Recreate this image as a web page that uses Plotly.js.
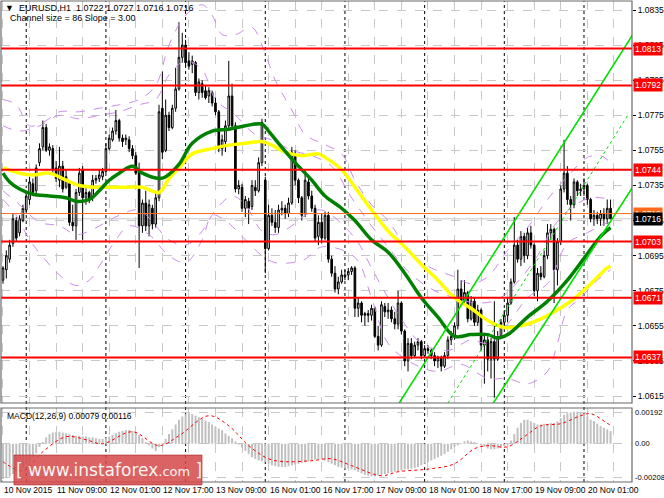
<!DOCTYPE html>
<html><head><meta charset="utf-8">
<script src="https://cdn.plot.ly/plotly-3.0.1.min.js"></script>
<style>html,body{margin:0;padding:0;background:#fff;}#chart{width:664px;height:498px;}</style>
</head><body><div id="chart"></div>
<script>
// ---- EURUSD H1 candles (10 Nov 17:00 .. 20 Nov 09:00) ----
const opens = [
1.0681,1.0687,1.0693,1.0702,1.0715,1.0708,1.0715,1.0721,1.0727,1.0736,
1.0732,1.0748,1.0757,1.0768,1.0755,1.0756,1.0745,1.0738,1.0746,1.0734,
1.0736,1.0714,1.0712,1.0731,1.0744,1.0728,1.0731,1.0728,1.0738,1.0739,
1.0740,1.0743,1.0756,1.0761,1.0766,1.0772,1.0762,1.0761,1.0761,1.0756,
1.0752,1.0744,1.0712,1.0725,1.0712,1.0722,1.0713,1.0728,1.0779,1.0755,
1.0775,1.0768,1.0779,1.0790,1.0808,1.0815,1.0806,1.0804,1.0805,1.0788,
1.0793,1.0789,1.0786,1.0788,1.0782,1.0777,1.0756,1.0760,1.0769,1.0786,
1.0769,1.0733,1.0734,1.0722,1.0726,1.0723,1.0734,1.0732,1.0748,1.0738,
1.0699,1.0718,1.0714,1.0711,1.0721,1.0722,1.0719,1.0725,1.0752,1.0738,
1.0728,1.0719,1.0737,1.0729,1.0722,1.0706,1.0714,1.0705,1.0718,1.0693,
1.0685,1.0676,1.0680,1.0683,1.0684,1.0686,1.0688,1.0665,1.0668,1.0661,
1.0662,1.0661,1.0665,1.0649,1.0644,1.0666,1.0663,1.0664,1.0659,1.0656,
1.0668,1.0652,1.0635,1.0645,1.0638,1.0644,1.0646,1.0638,1.0642,1.0641,
1.0638,1.0635,1.0637,1.0632,1.0638,1.0647,1.0649,1.0655,1.0676,1.0669,
1.0674,1.0659,1.0669,1.0657,1.0664,1.0644,1.0647,1.0636,1.0646,1.0636,
1.0649,1.0657,1.0661,1.0668,1.0680,1.0701,1.0693,1.0706,1.0695,1.0708,
1.0701,1.0675,1.0685,1.0683,1.0695,1.0708,1.0710,1.0687,1.0703,1.0733,
1.0742,1.0727,1.0724,1.0737,1.0732,1.0733,1.0735,1.0727,1.0716,1.0718,
1.0716,1.0719,1.0716,1.0722];
const highs = [
1.0689,1.0698,1.0704,1.0719,1.0717,1.0718,1.0724,1.0732,1.0740,1.0739,
1.0747,1.0759,1.0772,1.0770,1.0759,1.0758,1.0749,1.0757,1.0749,1.0744,
1.0738,1.0724,1.0733,1.0745,1.0746,1.0734,1.0732,1.0741,1.0741,1.0744,
1.0745,1.0759,1.0764,1.0768,1.0778,1.0773,1.0764,1.0764,1.0763,1.0758,
1.0754,1.0748,1.0727,1.0732,1.0727,1.0724,1.0731,1.0781,1.0800,1.0784,
1.0777,1.0781,1.0802,1.0828,1.0822,1.0818,1.0811,1.0809,1.0806,1.0796,
1.0795,1.0792,1.0791,1.0789,1.0785,1.0778,1.0764,1.0772,1.0806,1.0793,
1.0771,1.0738,1.0736,1.0729,1.0728,1.0738,1.0738,1.0751,1.0773,1.0740,
1.0724,1.0722,1.0721,1.0724,1.0726,1.0724,1.0728,1.0757,1.0755,1.0739,
1.0729,1.0744,1.0739,1.0732,1.0724,1.0718,1.0719,1.0720,1.0720,1.0695,
1.0689,1.0683,1.0687,1.0687,1.0688,1.0689,1.0689,1.0671,1.0669,1.0663,
1.0664,1.0667,1.0666,1.0655,1.0669,1.0668,1.0668,1.0666,1.0663,1.0675,
1.0669,1.0653,1.0648,1.0648,1.0646,1.0648,1.0647,1.0644,1.0644,1.0642,
1.0640,1.0638,1.0638,1.0640,1.0649,1.0652,1.0657,1.0687,1.0681,1.0681,
1.0675,1.0672,1.0671,1.0667,1.0665,1.0651,1.0649,1.0648,1.0669,1.0652,
1.0659,1.0664,1.0671,1.0682,1.0717,1.0704,1.0709,1.0708,1.0711,1.0712,
1.0702,1.0688,1.0689,1.0698,1.0713,1.0713,1.0711,1.0705,1.0735,1.0761,
1.0746,1.0729,1.0739,1.0738,1.0736,1.0739,1.0736,1.0728,1.0721,1.0720,
1.0721,1.0722,1.0727,1.0727];
const lows = [
1.0679,1.0682,1.0691,1.0700,1.0703,1.0706,1.0714,1.0719,1.0724,1.0729,
1.0730,1.0746,1.0755,1.0754,1.0752,1.0742,1.0737,1.0734,1.0731,1.0733,
1.0712,1.0709,1.0704,1.0729,1.0704,1.0724,1.0725,1.0726,1.0736,1.0737,
1.0738,1.0742,1.0755,1.0760,1.0764,1.0760,1.0757,1.0758,1.0754,1.0750,
1.0741,1.0688,1.0708,1.0709,1.0706,1.0710,1.0711,1.0726,1.0750,1.0754,
1.0766,1.0767,1.0777,1.0789,1.0805,1.0803,1.0801,1.0799,1.0786,1.0784,
1.0785,1.0784,1.0782,1.0780,1.0775,1.0754,1.0752,1.0754,1.0767,1.0767,
1.0731,1.0730,1.0720,1.0717,1.0713,1.0721,1.0729,1.0731,1.0746,1.0685,
1.0698,1.0712,1.0708,1.0708,1.0718,1.0716,1.0717,1.0724,1.0735,1.0725,
1.0715,1.0717,1.0727,1.0720,1.0703,1.0701,1.0702,1.0704,1.0691,1.0683,
1.0674,1.0673,1.0679,1.0681,1.0681,1.0684,1.0660,1.0660,1.0657,1.0655,
1.0657,1.0658,1.0648,1.0641,1.0643,1.0660,1.0659,1.0657,1.0653,1.0653,
1.0650,1.0632,1.0629,1.0636,1.0637,1.0641,1.0636,1.0637,1.0639,1.0636,
1.0632,1.0631,1.0629,1.0631,1.0636,1.0644,1.0647,1.0653,1.0667,1.0667,
1.0657,1.0658,1.0655,1.0655,1.0641,1.0622,1.0629,1.0625,1.0614,1.0635,
1.0648,1.0655,1.0657,1.0667,1.0679,1.0691,1.0689,1.0691,1.0693,1.0699,
1.0672,1.0669,1.0681,1.0682,1.0693,1.0704,1.0668,1.0678,1.0701,1.0731,
1.0724,1.0715,1.0722,1.0729,1.0729,1.0729,1.0724,1.0714,1.0712,1.0713,
1.0712,1.0712,1.0713,1.0716];
const closes = [
1.0688,1.0695,1.0701,1.0716,1.0705,1.0716,1.0722,1.0729,1.0737,1.0731,
1.0745,1.0756,1.0768,1.0755,1.0757,1.0744,1.0739,1.0746,1.0733,1.0740,
1.0714,1.0712,1.0731,1.0742,1.0728,1.0731,1.0727,1.0738,1.0739,1.0741,
1.0743,1.0756,1.0762,1.0766,1.0772,1.0762,1.0760,1.0762,1.0756,1.0752,
1.0742,1.0712,1.0725,1.0712,1.0724,1.0713,1.0728,1.0777,1.0754,1.0775,
1.0768,1.0779,1.0790,1.0808,1.0815,1.0805,1.0803,1.0806,1.0788,1.0794,
1.0788,1.0785,1.0789,1.0782,1.0777,1.0756,1.0761,1.0769,1.0786,1.0769,
1.0733,1.0735,1.0722,1.0727,1.0722,1.0735,1.0732,1.0748,1.0771,1.0699,
1.0718,1.0714,1.0711,1.0721,1.0722,1.0719,1.0725,1.0754,1.0738,1.0728,
1.0718,1.0738,1.0729,1.0722,1.0705,1.0714,1.0705,1.0718,1.0693,1.0685,
1.0676,1.0680,1.0684,1.0684,1.0686,1.0688,1.0665,1.0668,1.0661,1.0662,
1.0661,1.0665,1.0649,1.0644,1.0667,1.0663,1.0664,1.0659,1.0656,1.0668,
1.0652,1.0635,1.0645,1.0638,1.0644,1.0646,1.0638,1.0642,1.0641,1.0638,
1.0635,1.0637,1.0632,1.0638,1.0647,1.0649,1.0655,1.0676,1.0669,1.0674,
1.0659,1.0669,1.0657,1.0664,1.0644,1.0647,1.0636,1.0646,1.0636,1.0649,
1.0657,1.0661,1.0668,1.0680,1.0701,1.0693,1.0706,1.0695,1.0708,1.0701,
1.0675,1.0685,1.0683,1.0695,1.0708,1.0710,1.0687,1.0703,1.0733,1.0742,
1.0727,1.0724,1.0737,1.0732,1.0733,1.0735,1.0727,1.0716,1.0718,1.0716,
1.0719,1.0716,1.0722,1.0716];

// ---- Moving averages ----
const greenIdx = [0,2,5,9,14,19,22,26,29,32,35,39,42,47,49,53,57,63,68,73,78,80,83,88,93,97,102,106,111,116,121,126,131,136,141,146,149,152,158,164,170,176,180,183];
const greenVal = [1.0742,1.0737,1.0733,1.0730,1.0729,1.0728,1.0726,1.0727,1.0732,1.0738,1.0742,1.0746,1.0742,1.0739,1.0740,1.0747,1.0759,1.0766,1.0767,1.0769,1.0770,1.0766,1.0759,1.0748,1.0738,1.0729,1.0722,1.0715,1.0704,1.0697,1.0685,1.0671,1.0660,1.0649,1.0650,1.0650,1.0648,1.0650,1.0660,1.0669,1.0681,1.0696,1.0706,1.0711];
const yellowIdx = [0,5,9,14,19,23,28,32,37,42,47,50,53,57,63,68,73,78,81,85,90,95,97,102,106,111,116,121,126,131,136,141,146,151,156,162,166,171,176,182,183];
const yellowVal = [1.0745,1.0742,1.0741,1.0742,1.0738,1.0735,1.0734,1.0734,1.0734,1.0734,1.0731,1.0739,1.0745,1.0753,1.0756,1.0758,1.0759,1.0760,1.0758,1.0754,1.0752,1.0753,1.0751,1.0744,1.0734,1.0721,1.0709,1.0700,1.0690,1.0681,1.0671,1.0665,1.0658,1.0654,1.0655,1.0659,1.0663,1.0669,1.0677,1.0688,1.0689];

// ---- Envelope bands (dashed) ----
const upOuterIdx = [0,4,8,13,17,23,29,35,41,46,50,55,60,63,66,70,75,78,82,87,91,96,102,106,111,116,122,129,136,141,146,152,158,164,170,176,180,183];
const upOuterVal = [1.0784,1.0781,1.0769,1.0772,1.0777,1.0777,1.0779,1.0781,1.0784,1.0792,1.0815,1.0832,1.0838,1.0832,1.0821,1.0821,1.0825,1.0815,1.0795,1.0778,1.0764,1.0759,1.0753,1.0738,1.0724,1.0715,1.0698,1.0688,1.0683,1.0679,1.0683,1.0698,1.0711,1.0727,1.0740,1.0751,1.0752,1.0748];
const upInnerIdx = [0,5,11,17,23,29,35,41,46,50,55,60,64,70,76,81,87,93,99,105,111,116,122,129,136,143,149,155,161,166,171,177,183];
const upInnerVal = [1.0769,1.0766,1.0769,1.0775,1.0773,1.0775,1.0777,1.0781,1.0784,1.0798,1.0806,1.0801,1.0784,1.0775,1.0764,1.0761,1.0755,1.0752,1.0746,1.0728,1.0712,1.0700,1.0686,1.0676,1.0671,1.0668,1.0670,1.0680,1.0695,1.0712,1.0722,1.0728,1.0727];
const loInnerIdx = [0,5,11,17,22,26,31,35,41,46,50,55,60,64,69,73,78,82,87,91,96,106,111,116,121,126,134,141,146,152,158,164,166,170,176,181,183];
const loInnerVal = [1.0732,1.0724,1.0714,1.0712,1.0707,1.0709,1.0714,1.0718,1.0721,1.0712,1.0704,1.0701,1.0709,1.0721,1.0729,1.0724,1.0709,1.0707,1.0712,1.0718,1.0721,1.0705,1.0688,1.0671,1.0656,1.0645,1.0641,1.0647,1.0645,1.0656,1.0671,1.0679,1.0686,1.0702,1.0708,1.0713,1.0714];
const loOuterIdx = [0,4,8,13,17,22,26,29,34,38,44,50,55,60,63,67,73,78,82,87,91,96,106,111,116,124,131,138,146,152,158,164,167,170,174,179,183];
const loOuterVal = [1.0727,1.0718,1.0704,1.0692,1.0684,1.0678,1.0681,1.0689,1.0704,1.0712,1.0707,1.0695,1.0691,1.0704,1.0718,1.0715,1.0704,1.0695,1.0691,1.0691,1.0693,1.0700,1.0694,1.0671,1.0645,1.0633,1.0629,1.0633,1.0625,1.0625,1.0622,1.0629,1.0645,1.0664,1.0671,1.0681,1.0687];

// ---- Regression channel (Channel size = 86, Slope = 3.00) ----
const chanUpperIdx = [119,190];   const chanUpperVal = [1.0610,1.0822];
const chanMidIdx   = [133,188.5]; const chanMidVal   = [1.0608,1.0776];
const chanLowerIdx = [147,190];   const chanLowerVal = [1.0609,1.0735];

// ---- Horizontal levels ----
const levels = [1.0813,1.0792,1.0744,1.0703,1.0671,1.0637];
const askPrice = 1.0719;
const bidPrice = 1.0716;

// ---- MACD(12,26,9) ----
const macdHist = [
-0.00220,-0.00215,-0.00205,-0.00190,-0.00175,-0.00160,-0.00150,-0.00130,-0.00110,-0.00090,
-0.00060,-0.00020,0.00010,0.00040,0.00060,0.00070,0.00075,0.00075,0.00070,0.00065,
0.00060,0.00055,0.00050,0.00050,0.00045,0.00045,0.00040,0.00040,0.00035,0.00030,
0.00030,0.00035,0.00045,0.00055,0.00065,0.00075,0.00080,0.00085,0.00085,0.00080,
0.00070,0.00055,0.00035,0.00010,-0.00010,-0.00030,-0.00045,-0.00020,0.00005,0.00030,
0.00060,0.00090,0.00120,0.00150,0.00170,0.00185,0.00190,0.00185,0.00175,0.00165,
0.00155,0.00145,0.00135,0.00120,0.00105,0.00095,0.00085,0.00065,0.00050,0.00035,
0.00015,-0.00005,-0.00025,-0.00045,-0.00065,-0.00085,-0.00095,-0.00105,-0.00110,-0.00115,
-0.00125,-0.00135,-0.00140,-0.00145,-0.00145,-0.00145,-0.00140,-0.00135,-0.00130,-0.00125,
-0.00120,-0.00115,-0.00110,-0.00105,-0.00100,-0.00095,-0.00095,-0.00105,-0.00115,-0.00125,
-0.00135,-0.00145,-0.00150,-0.00155,-0.00155,-0.00160,-0.00165,-0.00175,-0.00185,-0.00195,
-0.00200,-0.00205,-0.00205,-0.00200,-0.00195,-0.00190,-0.00185,-0.00180,-0.00175,-0.00170,
-0.00165,-0.00160,-0.00160,-0.00155,-0.00150,-0.00145,-0.00135,-0.00125,-0.00115,-0.00105,
-0.00095,-0.00085,-0.00075,-0.00065,-0.00050,-0.00035,-0.00020,-0.00010,0.00005,0.00015,
0.00020,0.00015,0.00010,0.00000,-0.00010,-0.00020,-0.00030,-0.00035,-0.00035,-0.00030,
-0.00025,-0.00015,-0.00005,0.00020,0.00060,0.00100,0.00130,0.00150,0.00150,0.00140,
0.00130,0.00120,0.00120,0.00125,0.00125,0.00130,0.00130,0.00140,0.00160,0.00180,
0.00190,0.00195,0.00200,0.00200,0.00195,0.00185,0.00170,0.00150,0.00140,0.00125,
0.00110,0.00100,0.00090,0.00079];
const signalIdx = [0,6,12,19,25,30,39,47,53,62,68,74,80,85,93,99,105,114,119,129,136,142,146,152,157,162,168,174,177,182,183];
const signalVal = [-0.00112,-0.00169,-0.00050,0.00044,0.00025,0.00000,0.00075,-0.00012,0.00050,0.00175,0.00112,-0.00012,-0.00094,-0.00112,-0.00106,-0.00094,-0.00137,-0.00200,-0.00175,-0.00156,-0.00125,-0.00031,-0.00012,-0.00019,0.00044,0.00112,0.00125,0.00175,0.00188,0.00128,0.00116];

// ---- Axis labels ----
const timeTickIdx  = [0,16,32,48,64,80,96,112,128,144,160,176];
const timeTickText = ['10 Nov 2015','11 Nov 09:00','12 Nov 01:00','12 Nov 17:00','13 Nov 09:00','16 Nov 01:00','16 Nov 17:00','17 Nov 09:00','18 Nov 01:00','18 Nov 17:00','19 Nov 09:00','20 Nov 01:00'];
const daySepIdx = [7,31,55,79,103,127,151,175];
const macdTickVals = [0.00192,0,-0.00208];
const macdTickText = ['0.00192','0.00','-0.00208'];

const barIdx = opens.map((_, i) => i);
const FONT = 'Liberation Sans, Arial, sans-serif';

const bandStyle = {color:'rgb(204,140,235)', width:1, dash:'dash', shape:'spline'};
const traces = [
  {type:'scatter', mode:'lines', x:upOuterIdx, y:upOuterVal, line:bandStyle, hoverinfo:'skip'},
  {type:'scatter', mode:'lines', x:upInnerIdx, y:upInnerVal, line:bandStyle, hoverinfo:'skip'},
  {type:'scatter', mode:'lines', x:loInnerIdx, y:loInnerVal, line:bandStyle, hoverinfo:'skip'},
  {type:'scatter', mode:'lines', x:loOuterIdx, y:loOuterVal, line:bandStyle, hoverinfo:'skip'},
  {type:'candlestick', x:barIdx, open:opens, high:highs, low:lows, close:closes,
   increasing:{line:{color:'#000000', width:1}, fillcolor:'#ffffff'},
   decreasing:{line:{color:'#000000', width:1}, fillcolor:'#000000'},
   whiskerwidth:0, hoverinfo:'none', xaxis:'x', yaxis:'y'},
  {type:'scatter', mode:'lines', x:yellowIdx, y:yellowVal, line:{color:'#ffff00', width:3.5, shape:'spline'}, hoverinfo:'skip'},
  {type:'scatter', mode:'lines', x:greenIdx, y:greenVal, line:{color:'#008000', width:3.5, shape:'spline'}, hoverinfo:'skip'},
  {type:'scatter', mode:'lines', x:chanUpperIdx, y:chanUpperVal, line:{color:'#00e000', width:1.6}, hoverinfo:'skip'},
  {type:'scatter', mode:'lines', x:chanMidIdx, y:chanMidVal, line:{color:'#00e000', width:1, dash:'dot'}, hoverinfo:'skip'},
  {type:'scatter', mode:'lines', x:chanLowerIdx, y:chanLowerVal, line:{color:'#00e000', width:1.6}, hoverinfo:'skip'},
  {type:'bar', x:barIdx, y:macdHist, width:0.6, marker:{color:'#c0c0c0', line:{width:0}}, xaxis:'x', yaxis:'y2', hoverinfo:'skip'},
  {type:'scatter', mode:'lines', x:signalIdx, y:signalVal, line:{color:'#ff0000', width:1, dash:'dot', shape:'spline'}, xaxis:'x', yaxis:'y2', hoverinfo:'skip'}
];

const shapes = [];
daySepIdx.forEach(i => shapes.push({type:'line', xref:'x', yref:'paper', x0:i, x1:i, y0:0, y1:1,
  line:{color:'#000000', width:1, dash:'dot'}, layer:'below'}));
levels.forEach(v => shapes.push({type:'line', xref:'paper', yref:'y', x0:0, x1:1, y0:v, y1:v,
  line:{color:'#ff0000', width:2}, layer:'above'}));
shapes.push({type:'line', xref:'paper', yref:'y', x0:0, x1:1, y0:askPrice, y1:askPrice, line:{color:'#ff6a1a', width:1}, layer:'above'});
shapes.push({type:'line', xref:'paper', yref:'y', x0:0, x1:1, y0:bidPrice, y1:bidPrice, line:{color:'#c8c8c8', width:1}, layer:'below'});
shapes.push({type:'rect', xref:'x domain', yref:'y domain', x0:0, x1:1, y0:0, y1:1, line:{color:'#6a6a6a', width:1.2}});
shapes.push({type:'rect', xref:'x domain', yref:'y2 domain', x0:0, x1:1, y0:0, y1:1, line:{color:'#6a6a6a', width:1.2}});
// watermark box
shapes.push({type:'rect', xref:'paper', yref:'paper', x0:0.0206, x1:0.3185, y0:-0.006, y1:0.056,
  fillcolor:'rgba(214,72,72,0.85)', line:{color:'rgba(170,50,50,0.7)', width:1}, layer:'above'});

const annotations = [];
annotations.push({xref:'paper', yref:'paper', x:0.003, y:0.9854, xanchor:'left', yanchor:'middle', showarrow:false,
  text:'\u25BC  EURUSD,H1  1.0722 1.0727 1.0716 1.0716', font:{family:FONT, size:9, color:'#000'}});
annotations.push({xref:'paper', yref:'paper', x:0.011, y:0.9647, xanchor:'left', yanchor:'middle', showarrow:false,
  text:'Channel size = 86 Slope = 3.00', font:{family:FONT, size:9, color:'#000'}});
annotations.push({xref:'paper', yref:'paper', x:0.006, y:0.1372, xanchor:'left', yanchor:'middle', showarrow:false,
  text:'MACD(12,26,9) 0.00079 0.00116', font:{family:FONT, size:8.5, color:'#000'}});
timeTickIdx.forEach((i, k) => annotations.push({xref:'x', yref:'paper', x:i, y:-0.0166, xanchor:'left', yanchor:'middle',
  xshift:-1, showarrow:false, text:timeTickText[k], font:{family:FONT, size:8.5, color:'#000'}}));
macdTickVals.forEach((v, k) => annotations.push({xref:'paper', yref:'y2', x:1, y:v, xanchor:'left', yanchor:'middle',
  xshift:1, showarrow:false, text:macdTickText[k], font:{family:FONT, size:7.6, color:'#000'}}));
levels.forEach(v => annotations.push({xref:'paper', yref:'y', x:1, y:v, xanchor:'left', yanchor:'middle', xshift:1,
  showarrow:false, text:v.toFixed(4), bgcolor:'#ff0000', borderpad:1, font:{family:FONT, size:8.5, color:'#ffffff'}}));
annotations.push({xref:'paper', yref:'y', x:1, y:askPrice, xanchor:'left', yanchor:'middle', xshift:1, showarrow:false,
  text:askPrice.toFixed(4), bgcolor:'#ff6a1a', borderpad:1, font:{family:FONT, size:8.5, color:'#ffffff'}});
annotations.push({xref:'paper', yref:'y', x:1, y:bidPrice, xanchor:'left', yanchor:'middle', xshift:1, showarrow:false,
  text:bidPrice.toFixed(4), bgcolor:'#000000', borderpad:1, font:{family:FONT, size:8.5, color:'#ffffff'}});
annotations.push({xref:'paper', yref:'paper', x:0.1704, y:0.025, xanchor:'center', yanchor:'middle', showarrow:false,
  text:'[ www.instaforex<span style="font-size:13px">.com</span> ]', font:{family:'DejaVu Sans, sans-serif', size:17, color:'rgba(255,255,255,0.95)'}});

const layout = {
  width:664, height:498,
  margin:{l:1, r:32, t:1, b:16, pad:0},
  paper_bgcolor:'#ffffff', plot_bgcolor:'#ffffff',
  showlegend:false, hovermode:false,
  font:{family:FONT, size:8.5, color:'#000'},
  xaxis:{range:[-0.6, 189.46], anchor:'y2', tickmode:'linear', tick0:0, dtick:8,
    showgrid:true, gridcolor:'#c8c8c8', griddash:'dash', gridwidth:1,
    showticklabels:false, ticks:'', zeroline:false, showline:false,
    rangeslider:{visible:false}, fixedrange:true},
  yaxis:{domain:[0.1642, 1], range:[1.061101, 1.084013], side:'right', anchor:'x',
    tickmode:'linear', tick0:1.0615, dtick:0.002, tickformat:'.4f',
    ticks:'outside', ticklen:3, tickcolor:'#000', tickfont:{family:FONT, size:8.5, color:'#000'},
    showgrid:true, gridcolor:'#c8c8c8', griddash:'dash', zeroline:false, showline:false, fixedrange:true},
  yaxis2:{domain:[0, 0.1538], range:[-0.00239, 0.00223], side:'right', anchor:'x',
    tickmode:'array', tickvals:macdTickVals, showticklabels:false,
    ticks:'', showgrid:true, gridcolor:'#c8c8c8', griddash:'dash', zeroline:false, showline:false, fixedrange:true},
  shapes:shapes, annotations:annotations
};

Plotly.newPlot('chart', traces, layout, {staticPlot:true, displayModeBar:false});
</script>
</body></html>
